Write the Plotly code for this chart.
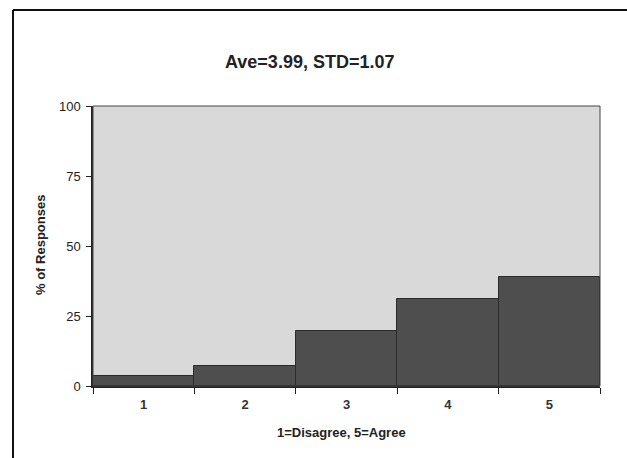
import plotly.graph_objects as go

categories = ["1", "2", "3", "4", "5"]
percent_responses = [3.5, 7, 19.5, 31, 39]
y_tick_values = [0, 25, 50, 75, 100]
title_text = "Ave=3.99, STD=1.07"
x_title = "1=Disagree, 5=Agree"
y_title = "% of Responses"

W, H = 627, 458
L, R, T, B = 93, 27, 106, 72
pw, ph = W - L - R, H - T - B

def px_to_paper_x(px):
    return (px - L) / pw

def px_to_paper_y(py):
    return (H - B - py) / ph

fig = go.Figure(go.Bar(
    x=categories, y=percent_responses,
    marker=dict(color="#4e4e4e", line=dict(color="#2a2a2a", width=1)),
    width=1.0,
))

font_family = "Liberation Sans, Arial, sans-serif"

fig.update_layout(
    width=W, height=H,
    margin=dict(l=L, r=R, t=T, b=B),
    paper_bgcolor="white",
    plot_bgcolor="#d9d9d9",
    bargap=0,
    showlegend=False,
    font=dict(family=font_family, size=13, color="#222"),
    xaxis=dict(
        type="category", tickson="boundaries", ticks="outside", ticklen=6,
        tickcolor="#222", showline=True, linecolor="#222", linewidth=1.5,
        showgrid=False, tickfont=dict(size=13, color="#333"),
        ticklabelstandoff=6,
        tickvals=categories, ticktext=["<b>" + c + "</b>" for c in categories],
        range=[-0.5, 4.5],
    ),
    yaxis=dict(
        range=[0, 100], tickvals=y_tick_values, ticks="outside", ticklen=5,
        tickcolor="#222", showline=True, linecolor="#222", linewidth=1.5,
        showgrid=False, zeroline=False, tickfont=dict(size=13, color="#222"),
        ticklabelstandoff=3,
    ),
    annotations=[
        dict(text="<b>" + title_text + "</b>", xref="paper", yref="paper",
             x=px_to_paper_x(309), y=px_to_paper_y(62), showarrow=False,
             xanchor="center", yanchor="middle",
             font=dict(size=18, color="#222", family=font_family)),
        dict(text="<b>" + x_title + "</b>", xref="paper", yref="paper",
             x=px_to_paper_x(341), y=px_to_paper_y(432), showarrow=False,
             xanchor="center", yanchor="middle",
             font=dict(size=13, color="#222", family=font_family)),
        dict(text="<b>" + y_title + "</b>", xref="paper", yref="paper",
             x=px_to_paper_x(40), y=px_to_paper_y(245), showarrow=False,
             textangle=-90, xanchor="center", yanchor="middle",
             font=dict(size=13, color="#222", family=font_family)),
    ],
    shapes=[
        # plot-area border (top and right)
        dict(type="rect", xref="paper", yref="paper", x0=0, y0=0, x1=1, y1=1,
             line=dict(color="#444", width=1), layer="above"),
        # outer frame: left and top
        dict(type="line", xref="paper", yref="paper",
             x0=px_to_paper_x(13), x1=px_to_paper_x(13),
             y0=px_to_paper_y(10), y1=px_to_paper_y(458),
             line=dict(color="#111", width=2)),
        dict(type="line", xref="paper", yref="paper",
             x0=px_to_paper_x(13), x1=px_to_paper_x(627),
             y0=px_to_paper_y(10), y1=px_to_paper_y(10),
             line=dict(color="#111", width=2)),
    ],
)

fig.write_html("out.html")
